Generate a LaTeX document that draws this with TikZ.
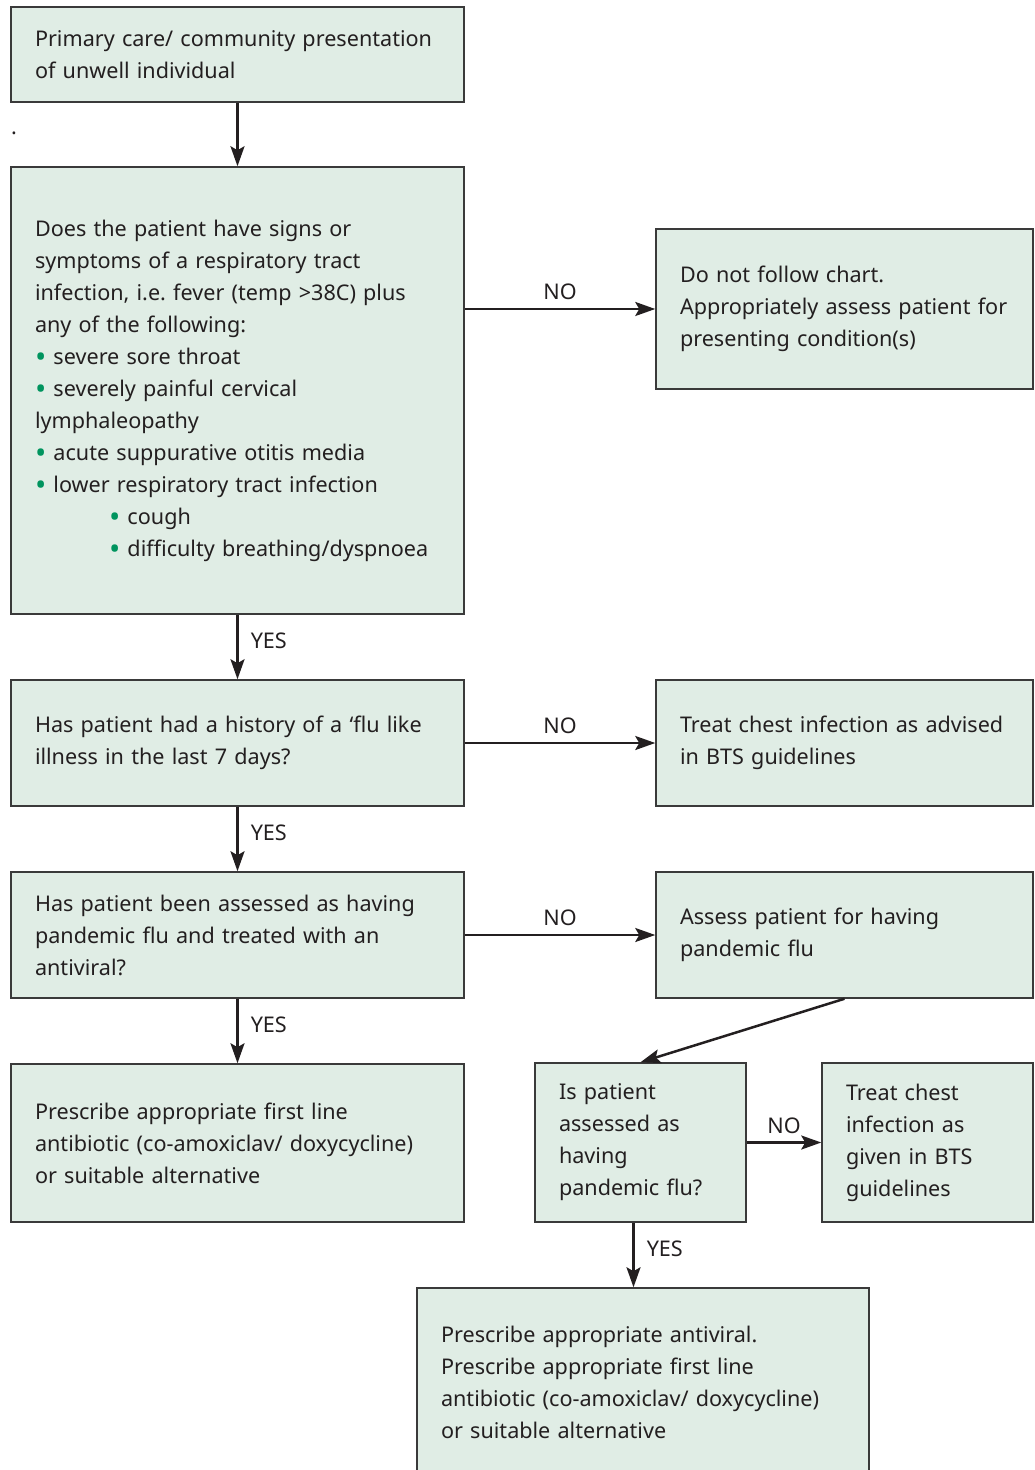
\documentclass[tikz,border=0pt]{standalone}
\usepackage{fontspec}
\setmainfont{Noto Sans}
\usepackage{tikz}
\usetikzlibrary{arrows.meta}
\definecolor{boxfill}{HTML}{E0EDE5}
\definecolor{boxline}{HTML}{3A3A3A}
\definecolor{dotgreen}{HTML}{00945E}
\definecolor{inkgray}{HTML}{231F20}
\hyphenpenalty=10000
\exhyphenpenalty=10000
\newcommand{\bul}{\textcolor{dotgreen}{\raisebox{-1.8pt}{\fontsize{15}{16}\selectfont\textbullet}}\ }

\begin{document}
\begin{tikzpicture}[x=0.5pt, y=-0.5pt,
        every node/.style={font=\fontsize{10.8}{16}\selectfont, text=inkgray},
        box/.style={draw=boxline, fill=boxfill, line width=0.75pt, inner xsep=12pt, inner ysep=0pt, align=left},
        flow/.style={-{Stealth[length=10pt, width=7pt, inset=2pt]}, line width=1.25pt, draw=inkgray},
        lbl/.style={inner sep=4pt}]
    \useasboundingbox (0,0) rectangle (1034,1470);

    % left column
    \node[box, text width=202.5pt, minimum height=47.5pt] (prim) at (237.5,54.5) {Primary care/ community presentation\\of unwell individual};
    \node[inner sep=0pt] (dot) at (14,133) {.};
    \node[box, text width=202.5pt, minimum height=223.5pt] (resp) at (237.5,390.5) {Does the patient have signs or\\symptoms of a respiratory tract\\infection, i.e.\ fever (temp >38C) plus\\any of the following:\\\bul severe sore throat\\\bul severely painful cervical\\lymphaleopathy\\\bul acute suppurative otitis media\\\bul lower respiratory tract infection\\\hspace*{37pt}\bul cough\\\hspace*{37pt}\bul difficulty breathing/dyspnoea};
    \node[box, text width=202.5pt, minimum height=63pt] (flu) at (237.5,743) {Has patient had a history of a `flu like\\illness in the last 7 days?};
    \node[box, text width=202.5pt, minimum height=63pt] (assessed) at (237.5,935) {Has patient been assessed as having\\pandemic flu and treated with an\\antiviral?};
    \node[box, text width=202.5pt, minimum height=79pt] (abx) at (237.5,1143) {Prescribe appropriate first line\\antibiotic (co-amoxiclav/ doxycycline)\\or suitable alternative};

    % right column
    \node[box, text width=164.5pt, minimum height=80pt] (notchart) at (844.5,309) {Do not follow chart.\\Appropriately assess patient for\\presenting condition(s)};
    \node[box, text width=164.5pt, minimum height=63pt] (bts) at (844.5,743) {Treat chest infection as advised\\in BTS guidelines};
    \node[box, text width=164.5pt, minimum height=63pt] (assess) at (844.5,935) {Assess patient for having\\pandemic flu};
    \node[box, text width=81.5pt, minimum height=79.5pt] (ispan) at (640.5,1142.5) {Is patient\\assessed as\\having\\pandemic flu?};
    \node[box, text width=81.5pt, minimum height=79.5pt] (btsgiven) at (927.5,1142.5) {Treat chest\\infection as\\given in BTS\\guidelines};
    \node[box, text width=202pt, minimum height=94pt] (antiv) at (643,1382) {Prescribe appropriate antiviral.\\Prescribe appropriate first line\\antibiotic (co-amoxiclav/ doxycycline)\\or suitable alternative};

    % connectors
    \draw[flow] (prim) -- (resp);
    \draw[flow] (resp.east |- notchart.west) -- node[above, lbl] {NO} (notchart.west);
    \draw[flow] (resp) -- node[right, lbl, xshift=2pt, pos=0.4] {YES} (flu);
    \draw[flow] (flu) -- node[above, lbl] {NO} (bts);
    \draw[flow] (flu) -- node[right, lbl, xshift=2pt, pos=0.4] {YES} (assessed);
    \draw[flow] (assessed) -- node[above, lbl] {NO} (assess);
    \draw[flow] (assessed) -- node[right, lbl, xshift=2pt, pos=0.4] {YES} (abx);
    \draw[flow] (assess.south) -- (ispan.north);
    \draw[flow] (ispan) -- node[above, lbl] {NO} (btsgiven);
    \draw[flow] ([xshift=-3.5pt]ispan.south) -- node[right, lbl, xshift=2pt, pos=0.4] {YES} ([xshift=-3.5pt]ispan.south |- antiv.north);
\end{tikzpicture}
\end{document}
